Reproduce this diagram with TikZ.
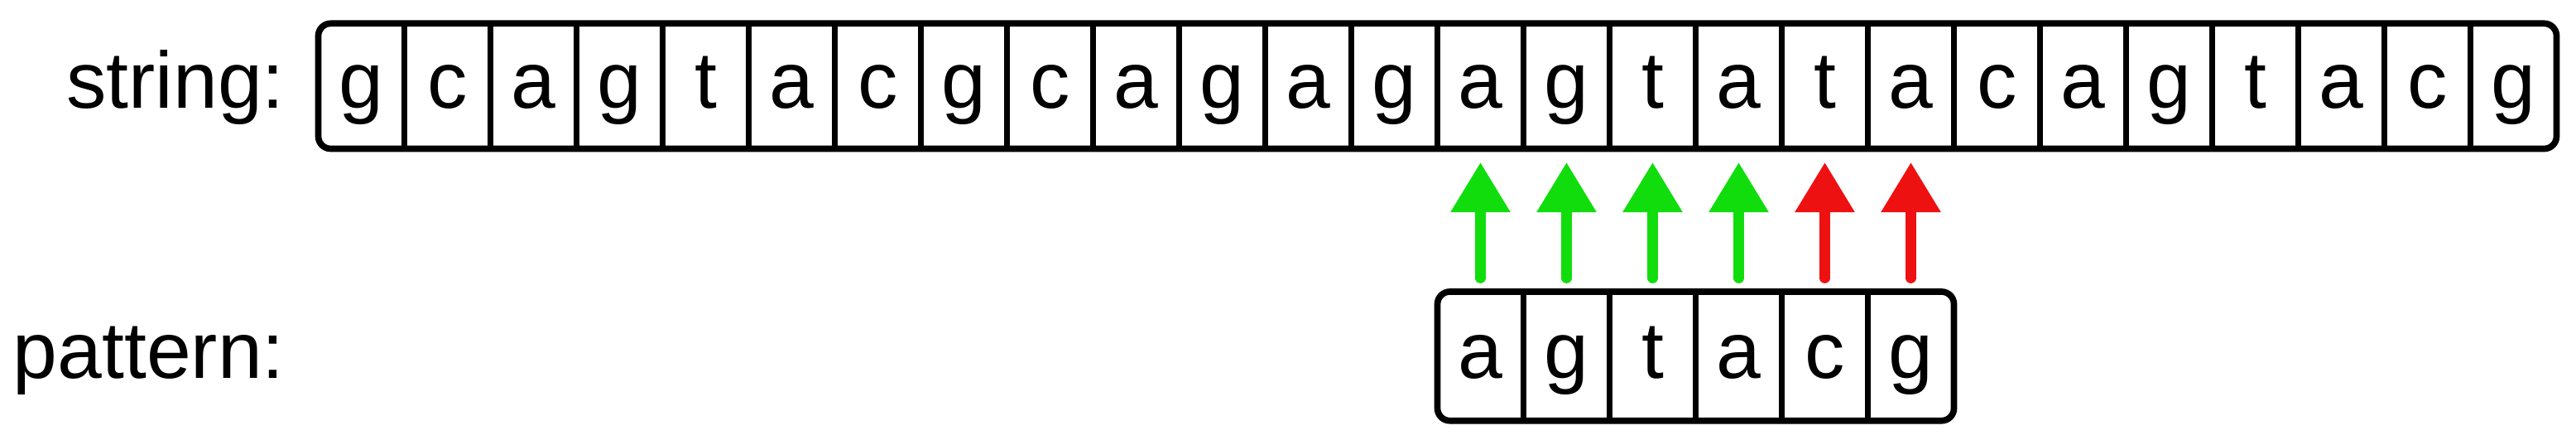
\documentclass[tikz,border=0pt]{standalone}
\usepackage{fontspec}
\setmainfont{Liberation Sans}
\usetikzlibrary{arrows.meta,positioning}
\definecolor{matchgreen}{RGB}{17,221,12}
\definecolor{missred}{RGB}{238,17,17}

\begin{document}
\begin{tikzpicture}[>={Triangle[width=0.69cm,length=0.6cm]},
            cell/.style={inner sep=0pt, outer sep=0pt, minimum width=1.04cm, minimum height=1.512cm,
             text height=0.536cm, text depth=0pt, font=\fontsize{27.5}{32}\selectfont},
            pcell/.style={cell, minimum height=1.557cm},
            label node/.style={inner sep=0pt, outer sep=0pt, text height=0.536cm, text depth=0pt,
             font=\fontsize{27.5}{32}\selectfont},
            frame/.style={draw, line width=0.077cm, rounded corners=0.15cm},
            divider/.style={draw, line width=0.077cm},
            check/.style={->, line width=0.123cm, line cap=round,
             shorten <=0.163cm, shorten >=0.165cm}]

            \useasboundingbox (0,0) rectangle (31.12,5.36);

            % string row
            \node[cell] (s0) at (4.365,4.321) {g};
            \foreach \c [count=\i, remember=\i as \j (initially 0)] in
              {c,a,g,t,a,c,g,c,a,g,a,g,a,g,t,a,t,a,c,a,g,t,a,c,g}
              \node[cell, right=0pt of s\j] (s\i) {\c};

            % pattern row
            \node[pcell, below=1.725cm of s13] (p0) {a};
            \foreach \c [count=\i, remember=\i as \j (initially 0)] in {g,t,a,c,g}
              \node[pcell, right=0pt of p\j] (p\i) {\c};

            \node[label node, left=0.408cm of s0] (strlabel) {string:};
            \node[label node, anchor=east] (patlabel) at (strlabel.east |- p0) {pattern:};

            \draw[frame] (s0.south west) rectangle (s25.north east);
            \foreach \i in {1,...,25}
              \draw[divider] (s\i.north west) -- (s\i.south west);

            \draw[frame] (p0.south west) rectangle (p5.north east);
            \foreach \i in {1,...,5}
              \draw[divider] (p\i.north west) -- (p\i.south west);

            \path[color=matchgreen, check]
              (p0.north) edge (s13.south)
              (p1.north) edge (s14.south)
              (p2.north) edge (s15.south)
              (p3.north) edge (s16.south);

            \path[color=missred, check]
              (p4.north) edge (s17.south)
              (p5.north) edge (s18.south);

            \end{tikzpicture}
\end{document}
